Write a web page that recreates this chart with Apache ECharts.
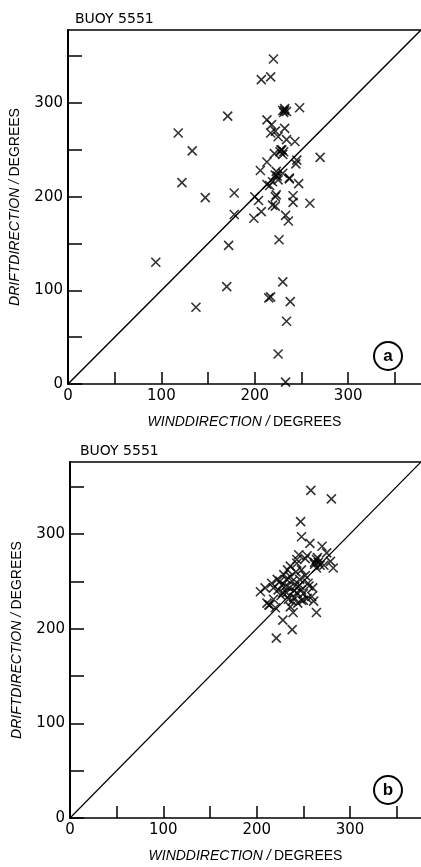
<!DOCTYPE html>
<html>
<head>
<meta charset="utf-8">
<script src="https://cdn.jsdelivr.net/npm/echarts@6/dist/echarts.min.js"></script>
<style>
html,body{margin:0;padding:0;background:#fff;}
#chart{width:421px;height:867px;}
</style>
</head>
<body>
<div id="chart"></div>
<script>
// ---- data ----
const titleA = "BUOY 5551";
const titleB = "BUOY 5551";
const panelTagA = "a";
const panelTagB = "b";
const tickLabels = [0, 100, 200, 300];
const tickMarks = [0, 50, 100, 150, 200, 250, 300, 350];

// Panel a: wind direction vs drift direction (degrees)
const windA  = [220,207,217,230,232,234,231,248,171,118,133,122,147,178,213,218,222,217,232,225,234,243,227,231,229,221,270,245,244,213,206,223,230,237,225,222,213,216,247,223,222,241,241,259,200,204,178,199,207,222,219,233,236,226,172,94,170,230,217,215,238,137,234,225,233,228,230,232,224,219,237];
const driftA = [347,325,328,292,294,291,290,295,286,268,249,215,199,204,282,277,270,268,273,264,261,259,248,248,250,246,242,239,235,237,228,227,225,220,218,223,213,212,214,202,200,201,194,193,200,196,181,177,184,190,191,180,174,154,148,130,104,109,93,92,88,82,67,32,2,250,245,292,222,216,219];

// Panel b
const windB  = [258,280,247,248,257,270,275,254,245,243,252,264,266,268,272,279,282,264,236,243,229,236,242,248,222,216,227,238,246,241,231,209,204,223,232,243,248,255,260,259,261,250,254,248,234,238,236,211,213,220,264,239,228,238,221,218,226,252,233,228,240,225,232,240,246,235,250,262,265,262,214,218,244,256];
const driftB = [346,337,313,297,290,287,280,277,278,273,274,273,270,267,267,271,264,264,266,269,257,255,260,262,252,248,246,250,252,245,245,243,239,241,238,238,241,248,243,234,229,230,232,230,231,229,223,227,225,222,217,217,209,199,190,243,235,256,262,238,233,250,252,240,246,243,237,270,275,268,225,231,227,245];

const axisMaxA = 378;
const axisMaxB = 376;

// ---- chart ----
const ptsA = windA.map((w, i) => [w, driftA[i]]);
const ptsB = windB.map((w, i) => [w, driftB[i]]);

const FONT = "Liberation Sans";
const LFONT = "DejaVu Sans";
const crossPath = "path://M0,0L10,10M10,0L0,10";

const nameRich = {
  i: {fontStyle: 'italic', fontSize: 14, fontFamily: FONT, color: '#000'},
  n: {fontSize: 14, fontFamily: FONT, color: '#000'}
};

function bottomX(grid, max) {
  return {
    gridIndex: grid, type: 'value', min: 0, max: max, interval: 50,
    position: 'bottom',
    axisLine: {show: true, onZero: false, lineStyle: {color: '#000', width: 1.5}},
    axisTick: {show: true, inside: true, length: 12, customValues: tickMarks, lineStyle: {color: '#000', width: 1.5}},
    axisLabel: {color: '#000', fontSize: 15, fontFamily: LFONT, margin: 5, customValues: tickLabels},
    splitLine: {show: false},
    name: '{i|WINDDIRECTION /} {n|DEGREES}',
    nameLocation: 'middle', nameGap: 31,
    nameTextStyle: {rich: nameRich}
  };
}
function topX(grid, max) {
  return {
    gridIndex: grid, type: 'value', min: 0, max: max, position: 'top',
    axisLine: {show: true, onZero: false, lineStyle: {color: '#000', width: 1.5}},
    axisTick: {show: false}, axisLabel: {show: false}, splitLine: {show: false}
  };
}
function leftY(grid, max) {
  return {
    gridIndex: grid, type: 'value', min: 0, max: max, interval: 50,
    axisLine: {show: true, onZero: false, lineStyle: {color: '#000', width: 2}},
    axisTick: {show: true, inside: true, length: 14, customValues: tickMarks, lineStyle: {color: '#000', width: 1.5}},
    axisLabel: {color: '#000', fontSize: 15, fontFamily: LFONT, margin: 5, customValues: tickLabels},
    splitLine: {show: false},
    name: '{i|DRIFTDIRECTION /} {n|DEGREES}',
    nameLocation: 'middle', nameGap: 46, nameRotate: 90,
    nameTextStyle: {rich: nameRich}
  };
}

const scatterStyle = {color: 'transparent', borderColor: '#000', borderWidth: 1.6};

function tag(cx, cy, letter) {
  return {
    type: 'group', children: [
      {type: 'circle', shape: {cx: cx, cy: cy, r: 14}, style: {fill: 'none', stroke: '#000', lineWidth: 2}},
      {type: 'text', x: cx, y: cy, style: {text: letter, fill: '#000', font: 'bold 17px ' + FONT, textAlign: 'center', textVerticalAlign: 'middle'}}
    ]
  };
}

const option = {
  backgroundColor: '#fff',
  animation: false,
  title: [
    {text: titleA, left: 70, top: 7, textStyle: {fontSize: 14, fontWeight: 'normal', fontFamily: LFONT, color: '#000'}},
    {text: titleB, left: 75, top: 439, textStyle: {fontSize: 14, fontWeight: 'normal', fontFamily: LFONT, color: '#000'}}
  ],
  grid: [
    {left: 68, top: 30, width: 353, height: 354},
    {left: 70, top: 462, width: 351, height: 356}
  ],
  xAxis: [bottomX(0, axisMaxA), topX(0, axisMaxA), bottomX(1, axisMaxB), topX(1, axisMaxB)],
  yAxis: [leftY(0, axisMaxA), leftY(1, axisMaxB)],
  series: [
    {type: 'line', xAxisIndex: 0, yAxisIndex: 0, data: [[0, 0], [axisMaxA, axisMaxA]], symbol: 'none', lineStyle: {color: '#000', width: 1.5}, silent: true},
    {type: 'scatter', xAxisIndex: 0, yAxisIndex: 0, data: ptsA, symbol: crossPath, symbolSize: 9, itemStyle: scatterStyle},
    {type: 'line', xAxisIndex: 2, yAxisIndex: 1, data: [[0, 0], [axisMaxB, axisMaxB]], symbol: 'none', lineStyle: {color: '#000', width: 1.2}, silent: true},
    {type: 'scatter', xAxisIndex: 2, yAxisIndex: 1, data: ptsB, symbol: crossPath, symbolSize: 9, itemStyle: scatterStyle}
  ],
  graphic: [tag(388, 356, panelTagA), tag(388, 790, panelTagB)]
};

const chart = echarts.init(document.getElementById('chart'), null, {renderer: 'canvas'});
chart.setOption(option);
</script>
</body>
</html>
